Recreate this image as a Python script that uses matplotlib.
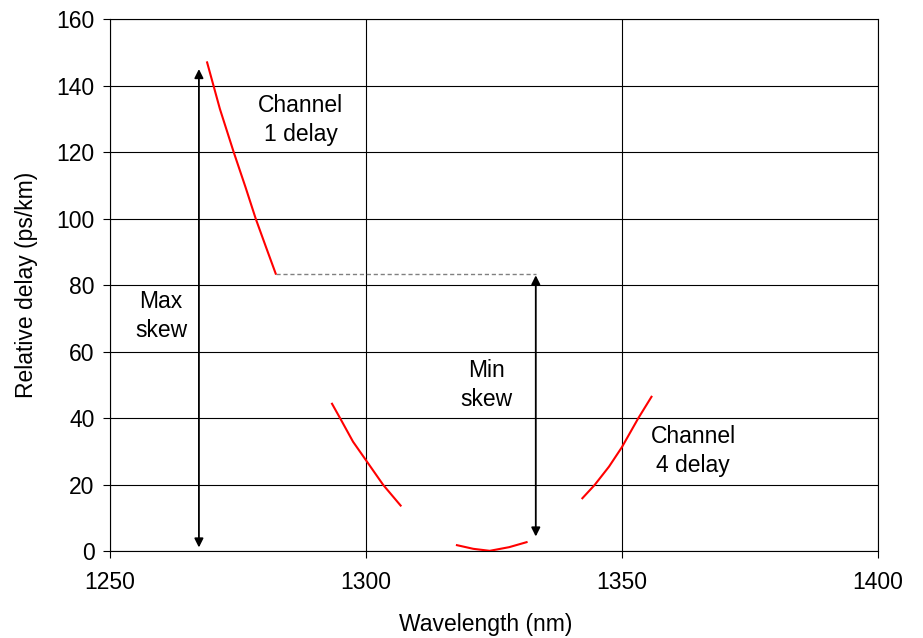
import matplotlib
matplotlib.use("Agg")
import matplotlib.pyplot as plt

plt.rcParams['font.family'] = ['Liberation Sans', 'DejaVu Sans']

ch1_x = [1269.0, 1271.5, 1274.2, 1276.5, 1278.5, 1280.5, 1282.4]
ch1_y = [147.0, 133.0, 120.0, 109.5, 100.0, 91.5, 83.5]
ch2_x = [1293.4, 1295.0, 1297.5, 1300.0, 1303.4, 1306.8]
ch2_y = [44.4, 40.0, 33.0, 27.5, 20.0, 13.8]
ch3_x = [1317.8, 1321.0, 1324.2, 1328.0, 1331.4]
ch3_y = [1.9, 0.8, 0.2, 1.3, 2.8]
ch4_x = [1342.3, 1344.7, 1347.5, 1350.0, 1353.2, 1355.8]
ch4_y = [16.0, 20.0, 25.5, 31.3, 40.0, 46.5]

min_skew_level = 83.4
max_skew_x = 1267.4
min_skew_x = 1333.2

fig = plt.figure(figsize=(9.23, 6.38), dpi=100)
ax = fig.add_axes([0.119, 0.1356, 0.832, 0.8344])

for xs, ys in [(ch1_x, ch1_y), (ch2_x, ch2_y), (ch3_x, ch3_y), (ch4_x, ch4_y)]:
    ax.plot(xs, ys, color='red', lw=1.5, zorder=3)

ax.plot([ch1_x[-1], min_skew_x], [min_skew_level, min_skew_level],
        color='gray', lw=1, ls=(0, (3, 2)), zorder=2)

ax.annotate('', xy=(max_skew_x, 145), xytext=(max_skew_x, 1.2),
            arrowprops=dict(arrowstyle='<|-|>', color='black', lw=1.3,
                            mutation_scale=13, shrinkA=0, shrinkB=0))
ax.annotate('', xy=(min_skew_x, 83.0), xytext=(min_skew_x, 4.5),
            arrowprops=dict(arrowstyle='<|-|>', color='black', lw=1.3,
                            mutation_scale=13, shrinkA=0, shrinkB=0))

fs = 16.5
ls = 1.34
ax.text(1287.3, 129.8, 'Channel\n1 delay', ha='center', va='center', fontsize=fs, linespacing=ls)
ax.text(1260.0, 70.8, 'Max\nskew', ha='center', va='center', fontsize=fs, linespacing=ls)
ax.text(1323.6, 50.1, 'Min\nskew', ha='center', va='center', fontsize=fs, linespacing=ls)
ax.text(1363.9, 30.2, 'Channel\n4 delay', ha='center', va='center', fontsize=fs, linespacing=ls)

ax.set_xlim(1250, 1400)
ax.set_ylim(0, 160)
ax.set_xticks([1250, 1300, 1350, 1400])
ax.set_yticks(range(0, 161, 20))
ax.grid(True, color='black', lw=0.8)
ax.set_axisbelow(True)
for s in ax.spines.values():
    s.set_linewidth(0.8)
ax.tick_params(labelsize=fs, direction='out', length=5, width=0.8)
ax.tick_params(axis='x', pad=9)
ax.tick_params(axis='y', pad=6)

fig.text(486 / 923, 1 - 625 / 638, 'Wavelength (nm)', ha='center', va='center', fontsize=fs)
fig.text(27 / 923, 1 - 285 / 638, 'Relative delay (ps/km)', ha='center', va='center',
         rotation=90, fontsize=fs)

fig.savefig('out.png', dpi=100)
